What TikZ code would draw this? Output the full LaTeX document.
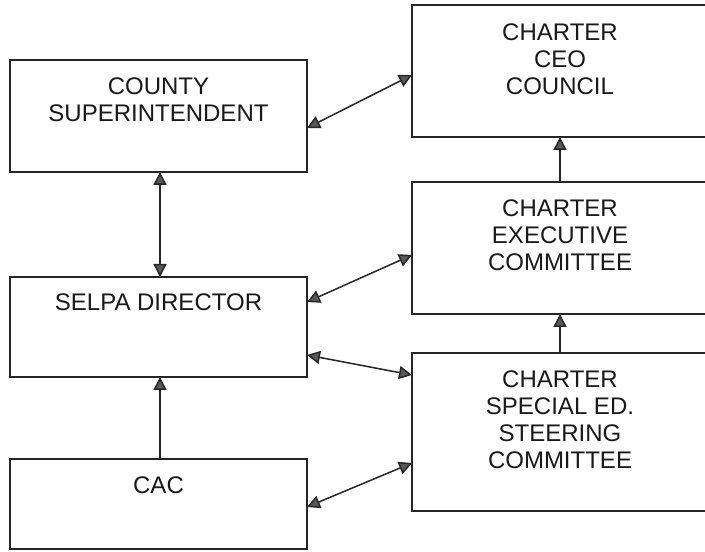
\documentclass[tikz,border=0pt]{standalone}
\usepackage{fontspec}
\setmainfont{Liberation Sans}
\usetikzlibrary{arrows.meta}
\begin{document}
\begin{tikzpicture}[x=1pt,y=1pt,
  orgbox/.style={draw=black!85, line width=1.6pt, rectangle, outer sep=0pt,
    inner sep=0pt, minimum width=297pt},
  boxtext/.style={anchor=north, align=center, inner sep=0pt, text=black!90,
    font=\fontsize{24}{27}\selectfont},
  link/.style={draw=black!85, line width=1.5pt, -{Triangle[length=13pt,width=13pt,fill=black!65]}},
  twoway/.style={draw=black!85, line width=1.5pt,
    {Triangle[length=13pt,width=13pt,fill=black!65]}-{Triangle[length=13pt,width=13pt,fill=black!65]}}
]
\useasboundingbox (0,0) rectangle (705,552);
\clip (0,0) rectangle (705,552);
\fill[white] (0,0) rectangle (705,552);

% left column
\node[orgbox, minimum height=112pt] (county) at (158.5,436) {};
\node[orgbox, minimum height=100pt] (selpa)  at (158.5,225) {};
\node[orgbox, minimum height=90pt]  (cac)    at (158.5,48)  {};

% right column (runs off the right edge of the sheet)
\node[orgbox, minimum width=300pt, minimum height=132pt] (ceo)  at (562,481) {};
\node[orgbox, minimum width=300pt, minimum height=132pt] (exec) at (562,304) {};
\node[orgbox, minimum width=300pt, minimum height=158pt] (spec) at (562,120) {};

% box labels
\node[boxtext] (countytxt) at ([yshift=-17.5pt]county.north) {COUNTY\\SUPERINTENDENT};
\node[boxtext] (selpatxt)  at ([yshift=-16.5pt]selpa.north)  {SELPA DIRECTOR};
\node[boxtext] (cactxt)    at ([yshift=-17.5pt]cac.north)    {CAC};
\node[boxtext] (ceotxt)    at ([xshift=-2pt,yshift=-18.5pt]ceo.north)  {CHARTER\\CEO\\COUNCIL};
\node[boxtext] (exectxt)   at ([xshift=-2pt,yshift=-17.5pt]exec.north) {CHARTER\\EXECUTIVE\\COMMITTEE};
\node[boxtext] (spectxt)   at ([xshift=-2pt,yshift=-17.5pt]spec.north) {CHARTER\\SPECIAL ED.\\STEERING\\COMMITTEE};

% connectors
\draw[twoway] ([yshift=-12pt]county.east) -- ([yshift=-4pt]ceo.west);
\draw[twoway] ([xshift=1.5pt]county.south) -- ([xshift=1.5pt]selpa.north);
\draw[twoway] ([yshift=25pt]selpa.east) -- ([yshift=-7pt]exec.west);
\draw[twoway] ([yshift=-28pt]selpa.east) -- ([yshift=57pt]spec.west);
\draw[link] ([xshift=1.5pt]cac.north) -- ([xshift=1.5pt]selpa.south);
\draw[twoway] ([yshift=-3pt]cac.east) -- ([yshift=-31pt]spec.west);
\draw[link] ([xshift=-2pt]spec.north) -- ([xshift=-2pt]exec.south);
\draw[link] ([xshift=-2pt]exec.north) -- ([xshift=-2pt]ceo.south);
\end{tikzpicture}
\end{document}
